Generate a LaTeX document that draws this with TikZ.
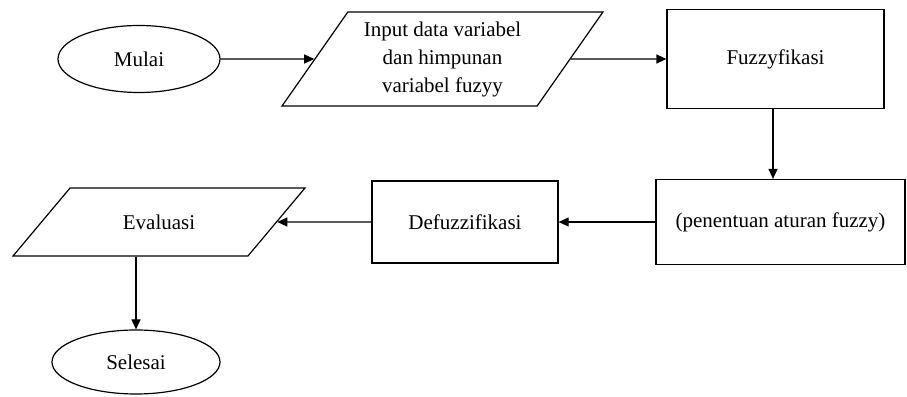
\documentclass[tikz,border=0pt]{standalone}
\usepackage{fontspec}
\setmainfont{Liberation Serif}
\usetikzlibrary{arrows.meta,positioning,shapes.geometric}
\tikzset{
  terminal/.style={draw, ellipse, line width=1.2pt, align=center, inner sep=2pt, font=\fontsize{21}{28}\selectfont},
  inout/.style={draw, trapezium, trapezium stretches body=true, line width=1.2pt, align=center, inner xsep=2pt, font=\fontsize{21}{28}\selectfont},
  process/.style={draw, rectangle, line width=1.2pt, align=center, inner sep=2pt, font=\fontsize{21}{28}\selectfont},
  arrow/.style={-{Triangle[length=10pt,width=9pt]}, line width=1.2pt}
}
\begin{document}
\begin{tikzpicture}[x=1pt,y=1pt]
  \useasboundingbox (0,0) rectangle (907,396);
  \node[terminal, minimum width=162pt, minimum height=67pt] (mulai) at (139,337) {Mulai};
  \node[inout, trapezium left angle=55, trapezium right angle=125, inner ysep=9.5pt, minimum width=321pt] (input) at (442.5,337) {Input data variabel\\dan himpunan\\variabel fuzyy};
  \node[process, minimum width=217pt, minimum height=99pt] (fuzzy) at (775.5,337) {Fuzzyfikasi};
  \node[process, minimum width=249pt, minimum height=85pt] (rules) at (780.5,174) {(penentuan aturan fuzzy)};
  \node[process, minimum width=186pt, minimum height=82pt] (defuzz) at (465,174) {Defuzzifikasi};
  \node[inout, trapezium left angle=50, trapezium right angle=130, text height=18pt, text depth=2pt, inner ysep=24pt, minimum width=292pt] (eval) at (159,174) {Evaluasi};
  \node[terminal, minimum width=168pt, minimum height=64pt] (selesai) at (136,34) {Selesai};
  \draw[arrow] (mulai) -- (input);
  \draw[arrow] (input) -- (fuzzy);
  \draw[arrow] (fuzzy.south -| 773,0) -- (rules.north -| 773,0);
  \draw[arrow] (rules) -- (defuzz);
  \draw[arrow] (defuzz) -- (eval);
  \draw[arrow] (selesai.north |- eval.south) -- (selesai);
\end{tikzpicture}
\end{document}
